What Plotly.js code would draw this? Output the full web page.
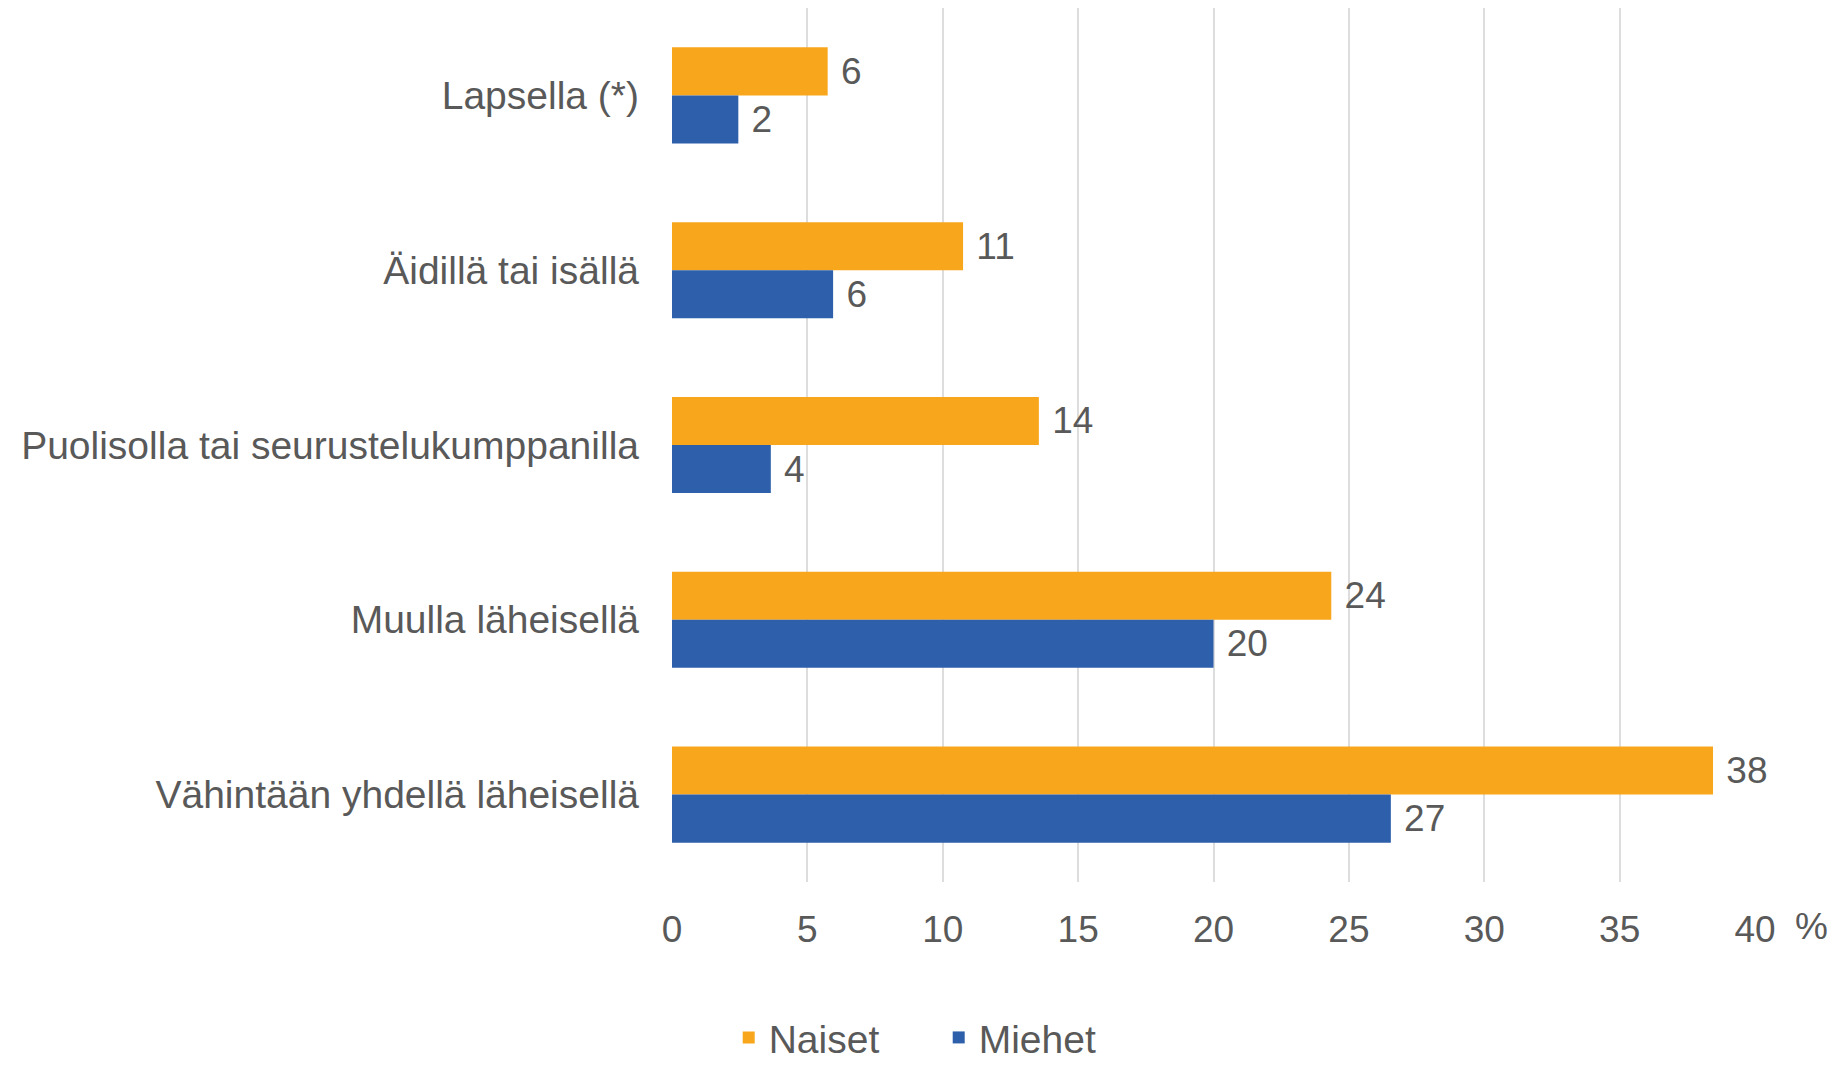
<!DOCTYPE html>
<html>
<head>
<meta charset="utf-8">
<script src="https://cdn.plot.ly/plotly-3.0.1.min.js"></script>
<style>
  html, body { margin: 0; padding: 0; background: #fff; }
  #chart { width: 1837px; height: 1065px; }
</style>
</head>
<body>
<div id="chart"></div>
<script>
// categories top to bottom
const categories = [
  "Lapsella (*)",
  "Äidillä tai isällä",
  "Puolisolla tai seurustelukumppanilla",
  "Muulla läheisellä",
  "Vähintään yhdellä läheisellä"
];
const naiset = [5.75, 10.75, 13.55, 24.35, 38.45];
const miehet = [2.45, 5.95, 3.65, 20.0, 26.55];
const xTicks = [0, 5, 10, 15, 20, 25, 30, 35, 40];

const textColor = "#595959";
const fontFamily = "'Liberation Sans', Arial, sans-serif";

const barStyle = (name, values, color) => ({
  type: "bar",
  orientation: "h",
  name: name,
  y: categories,
  x: values,
  marker: { color: color },
  texttemplate: "\u00a0%{x:.0f}",
  textposition: "outside",
  constraintext: "none",
  cliponaxis: false,
  textfont: { family: fontFamily, size: 37, color: textColor },
  hoverinfo: "x+name"
});

const traces = [
  barStyle("Naiset", naiset, "#F8A71C"),
  barStyle("Miehet", miehet, "#2E5FAB")
];

const layout = {
  width: 1837,
  height: 1065,
  margin: { l: 672, r: 82, t: 8, b: 183, autoexpand: false },
  paper_bgcolor: "#fff",
  plot_bgcolor: "#fff",
  font: { family: fontFamily, size: 37, color: textColor },
  barmode: "group",
  bargap: 0.45,
  bargroupgap: 0,
  xaxis: {
    range: [0, 40],
    tickvals: xTicks,
    showgrid: true,
    gridcolor: "#DDDDDD",
    gridwidth: 2,
    zeroline: false,
    showline: false,
    ticks: "",
    ticklabelstandoff: 22,
    tickfont: { size: 37, color: textColor }
  },
  yaxis: {
    autorange: "reversed",
    showgrid: false,
    zeroline: false,
    showline: false,
    ticks: "",
    ticklabelstandoff: 32,
    tickfont: { size: 39, color: textColor }
  },
  showlegend: true,
  legend: {
    orientation: "h",
    xref: "container",
    yref: "paper",
    x: 0.511,
    xanchor: "center",
    y: -0.178,
    yanchor: "middle",
    font: { size: 39, color: textColor },
    traceorder: "normal",
    itemwidth: 30,
    entrywidth: 165
  },
  annotations: [{
    text: "%",
    xref: "paper",
    yref: "paper",
    x: 1,
    y: 0,
    xanchor: "left",
    yanchor: "top",
    xshift: 38,
    yshift: -22,
    showarrow: false,
    font: { size: 37, color: textColor }
  }]
};

Plotly.newPlot("chart", traces, layout, { displayModeBar: false, staticPlot: true });
</script>
</body>
</html>
